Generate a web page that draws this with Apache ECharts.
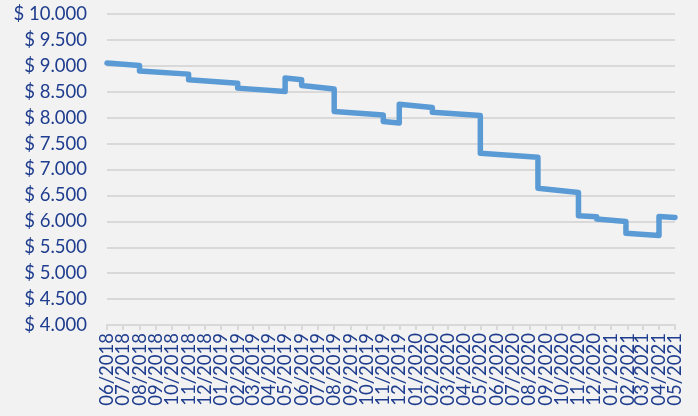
<!DOCTYPE html>
<html>
<head>
<meta charset="utf-8">
<script src="https://cdn.jsdelivr.net/npm/echarts@6/dist/echarts.min.js"></script>
<style>
html,body{margin:0;padding:0;background:#f2f2f2;}
#c{width:698px;height:416px;}
</style>
</head>
<body>
<div id="c"></div>
<script>
// Step boundaries (dates) and start/end value of each flat-ish segment
const breakDates = ['2018-06-01','2018-08-01','2018-11-01','2019-02-01','2019-05-01','2019-06-01','2019-08-01','2019-11-01','2019-12-01','2020-02-01','2020-05-01','2020-08-17','2020-11-01','2020-12-05','2021-01-29','2021-04-01','2021-05-01'];
const segStart = [9055, 8900, 8730, 8570, 8765, 8620, 8120, 7925, 8260, 8105, 7315, 6640, 6110, 6045, 5770, 6095];
const segEnd   = [9005, 8840, 8665, 8505, 8730, 8555, 8050, 7895, 8195, 8040, 7235, 6555, 6090, 5995, 5725, 6075];
const xMin = '2018-06-01';
const xMax = '2021-05-01';
const yMin = 4000, yMax = 10000, yStep = 500;

const data = [];
for (let i = 0; i < segStart.length; i++) {
  data.push([breakDates[i], segStart[i]]);
  data.push([breakDates[i + 1], segEnd[i]]);
}

const textColor = '#1f3d8e';
const font = 'Lato';

function fmtMoney(v) {
  const s = String(Math.round(v));
  return '$ ' + s.replace(/\B(?=(\d{3})+(?!\d))/g, '.');
}
function fmtMonth(v) {
  const d = new Date(v);
  const m = d.getMonth() + 1;
  return (m < 10 ? '0' : '') + m + '/' + d.getFullYear();
}

const chart = echarts.init(document.getElementById('c'));
chart.setOption({
  backgroundColor: '#f2f2f2',
  animation: false,
  grid: { left: 107, right: 23, top: 14, bottom: 91, containLabel: false },
  xAxis: {
    type: 'time',
    min: xMin,
    max: xMax,
    minInterval: 28 * 86400000,
    maxInterval: 31 * 86400000,
    splitNumber: 40,
    axisLine: { show: true, lineStyle: { color: '#d9d9d9', width: 2 } },
    axisTick: { show: true, length: 5, lineStyle: { color: '#d9d9d9', width: 2 } },
    splitLine: { show: false },
    axisLabel: {
      rotate: 90,
      color: textColor,
      fontFamily: font,
      fontSize: 18.5,
      margin: 8,
      showMinLabel: true,
      showMaxLabel: true,
      hideOverlap: false,
      formatter: fmtMonth
    }
  },
  yAxis: {
    type: 'value',
    min: yMin,
    max: yMax,
    interval: yStep,
    axisLine: { show: false },
    axisTick: { show: false },
    splitLine: { lineStyle: { color: '#d9d9d9', width: 2 } },
    axisLabel: {
      color: textColor,
      fontFamily: font,
      fontSize: 18.5,
      margin: 20,
      formatter: fmtMoney
    }
  },
  series: [{
    type: 'line',
    data: data,
    showSymbol: false,
    symbol: 'none',
    lineStyle: { color: '#5b9bd5', width: 5.5, cap: 'round', join: 'round' }
  }]
});
</script>
</body>
</html>
